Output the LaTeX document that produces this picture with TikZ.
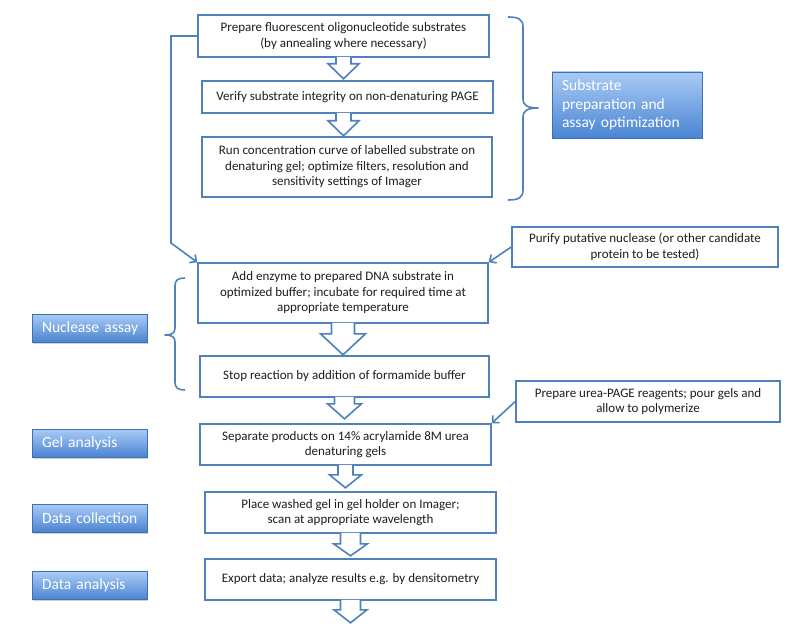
\documentclass[tikz,border=0pt]{standalone}
\usepackage{fontspec}
\setmainfont{Carlito}
\usetikzlibrary{arrows.meta,calc,shadows}
\definecolor{lineblue}{HTML}{4F81BD}
\definecolor{textgray}{HTML}{1E1E1E}
\definecolor{labtop}{HTML}{A9CBF5}
\definecolor{labmid}{HTML}{77A8EC}
\definecolor{labbot}{HTML}{4A84D2}
\definecolor{labborder}{HTML}{3E70B6}
\newcommand{\blockarr}[5]{%
  \fill[white] ($(#1)+(-#2,-1)$) -- ++(0,{#4+1}) -- ++({#2-#3},0) -- ++(#3,#5) -- ++(#3,-#5) -- ++({#2-#3},0) -- ++(0,{-#4-1}) -- cycle;
  \draw[arrline] ($(#1)+(-#2,-0.8)$) -- ++(0,{#4+0.8}) -- ++({#2-#3},0) -- ++(#3,#5) -- ++(#3,-#5) -- ++({#2-#3},0) -- ++(0,{-#4-0.8});
}
\begin{document}
\begin{tikzpicture}[x=1pt,y=-1pt,
  flowbox/.style={draw=lineblue, line width=1.6pt, fill=white, align=center,
    font=\fontsize{13}{15.5}\selectfont, text=textgray, inner sep=2pt},
  labbox/.style={draw=labborder, line width=0.5pt, top color=labtop, middle color=labmid,
    bottom color=labbot, text=white, font=\fontsize{15.5}{18.5}\selectfont, align=left,
    inner xsep=10pt, inner ysep=2pt,
    drop shadow={shadow xshift=1pt, shadow yshift=-1.5pt, opacity=0.35}},
  conn/.style={draw=lineblue, line width=1.6pt, -{Straight Barb[length=5pt,width=10pt]}},
  arrline/.style={draw=lineblue, line width=1.6pt, line join=miter}
]
\useasboundingbox (0,0) rectangle (800,631);
\fill[white] (0,0) rectangle (800,631);

% main flow boxes
\node[flowbox, minimum width=291pt, minimum height=42pt] (b1) at (343.5,36)
  {Prepare fluorescent oligonucleotide substrates\\(by annealing where necessary)};
\node[flowbox, minimum width=291pt, minimum height=32pt] (b2) at (347.5,97)
  {Verify substrate integrity on non-denaturing PAGE};
\node[flowbox, minimum width=290pt, minimum height=60pt] (b3) at (347,167)
  {Run concentration curve of labelled substrate on\\denaturing gel; optimize filters, resolution and\\sensitivity settings of Imager};
\node[flowbox, minimum width=266pt, minimum height=40pt] (pur) at (645,247)
  {Purify putative nuclease (or other candidate\\protein to be tested)};
\node[flowbox, minimum width=290pt, minimum height=60pt] (b4) at (343,293)
  {Add enzyme to prepared DNA substrate in\\optimized buffer; incubate for required time at\\appropriate temperature};
\node[flowbox, minimum width=289pt, minimum height=41pt] (b5) at (344.5,376.5)
  {Stop reaction by addition of formamide buffer};
\node[flowbox, minimum width=264pt, minimum height=41pt] (urea) at (648,401.5)
  {Prepare urea-PAGE reagents; pour gels and\\allow to polymerize};
\node[flowbox, minimum width=291pt, minimum height=41pt] (b6) at (345.5,444.5)
  {Separate products on 14\% acrylamide 8M urea\\denaturing gels};
\node[flowbox, minimum width=291pt, minimum height=41pt] (b7) at (350.5,512.5)
  {Place washed gel in gel holder on Imager;\\scan at appropriate wavelength};
\node[flowbox, minimum width=291pt, minimum height=41pt] (b8) at (350.5,579.5)
  {Export data; analyze results e.g. by densitometry};

% side label boxes
\node[labbox, minimum width=150pt, minimum height=66pt, text width=130pt] (lsub) at (627,105)
  {Substrate\\preparation and\\assay optimization};
\node[labbox, minimum width=115pt, minimum height=28pt, text width=95pt] (lnuc) at (89.5,328)
  {\mbox{Nuclease assay}};
\node[labbox, minimum width=115pt, minimum height=28pt, text width=95pt] (lgel) at (89.5,443)
  {\mbox{Gel analysis}};
\node[labbox, minimum width=115pt, minimum height=28pt, text width=95pt] (ldc) at (89.5,518)
  {\mbox{Data collection}};
\node[labbox, minimum width=115pt, minimum height=28pt, text width=95pt] (lda) at (89.5,585.5)
  {\mbox{Data analysis}};

% block arrows
\coordinate (a23) at ($(b2.south)+(-4,0)$);
\blockarr{b1.south}{7.5}{15.5}{6}{15}
\blockarr{a23}{7.5}{15.5}{7}{15}
\blockarr{b4.south}{11.5}{22.5}{10}{21}
\blockarr{b5.south}{10}{17}{6}{15}
\blockarr{b6.south}{7.5}{16}{9}{13}
\blockarr{b7.south}{10}{17}{10}{12}
\blockarr{b8.south}{10}{16.5}{9}{13}

% connectors
\coordinate (lbend) at (171,243);
\draw[conn] (b1.west) -| (lbend) -- (b4.north west);
\draw[conn] (pur.west) -- (b4.north east);
\draw[conn] (urea.west) -- (b6.north east);

% braces
\draw[arrline, line join=round] (508,17) .. controls (518,17) and (523,19) .. (523,27) -- (523,99)
  .. controls (523,105) and (527,108) .. (538,108)
  .. controls (527,108) and (523,111) .. (523,117) -- (523,190)
  .. controls (523,198) and (518,200) .. (508,200);
\draw[arrline, line join=round] (185,278) .. controls (178,278) and (175,280) .. (175,286) -- (175,328)
  .. controls (175,333) and (172,335) .. (165,335)
  .. controls (172,335) and (175,337) .. (175,342) -- (175,382)
  .. controls (175,388) and (178,390) .. (185,390);
\end{tikzpicture}
\end{document}
